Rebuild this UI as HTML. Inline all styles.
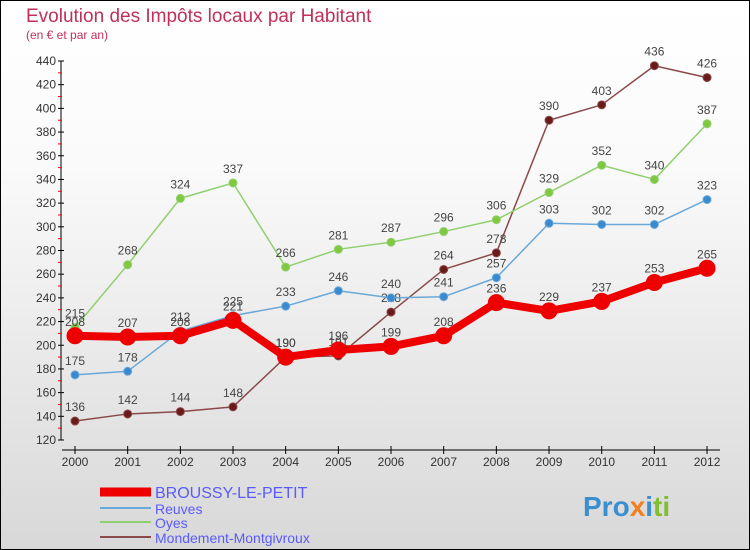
<!DOCTYPE html>
<html><head><meta charset="utf-8"><style>
body{margin:0;}
#c{position:relative;width:750px;height:550px;box-sizing:border-box;border:1px solid #000;background:linear-gradient(#fff,#fafafa 30%,#d8d8d8);font-family:"Liberation Sans",sans-serif;overflow:hidden;}
</style></head><body>
<div id="c">
<svg width="750" height="550" style="position:absolute;left:-1px;top:-1px">
<text x="26" y="22" font-size="19" fill="#c0305a">Evolution des Impôts locaux par Habitant</text>
<text x="26" y="39" font-size="12" fill="#c0305a">(en € et par an)</text>
<g id="axes"></g>
<g id="series"></g>
<g id="legend"></g>
<text x="583" y="516" font-size="28" font-weight="bold" fill="#3a8fd0">Pro<tspan fill="#f08020">x</tspan><tspan fill="#3a8fd0">i</tspan><tspan fill="#80c030">ti</tspan></text>
</svg>
</div>
<script>
const years=[2000,2001,2002,2003,2004,2005,2006,2007,2008,2009,2010,2011,2012];
const broussy=[208,207,208,221,190,196,199,208,236,229,237,253,265];
const reuves=[175,178,212,225,233,246,240,241,257,303,302,302,323];
const oyes=[215,268,324,337,266,281,287,296,306,329,352,340,387];
const mondement=[136,142,144,148,190,191,228,264,278,390,403,436,426];
const yTicks=[120,140,160,180,200,220,240,260,280,300,320,340,360,380,400,420,440];
const NS="http://www.w3.org/2000/svg";
const X=i=>75+i*52.67;
const Y=v=>440-(v-120)*(379/320);
function mk(p,t,a){const e=document.createElementNS(NS,t);for(const k in a)e.setAttribute(k,a[k]);p.appendChild(e);return e;}
const ax=document.getElementById('axes');
let l=mk(ax,'line',{x1:61,y1:Y(440),x2:61,y2:Y(120),stroke:'#000'});


l=mk(ax,'line',{x1:62,y1:450,x2:720,y2:450,stroke:'#000'});


yTicks.forEach((v,i)=>{
 mk(ax,'line',{x1:58,y1:Y(v),x2:64,y2:Y(v),stroke:'#000'});
 if(i<yTicks.length-1) mk(ax,'line',{x1:58,y1:Y(v+10),x2:62,y2:Y(v+10),stroke:'#f00'});
 const t=mk(ax,'text',{x:56,y:Y(v)+4,'font-size':12,fill:'#333','text-anchor':'end'});
 t.textContent=v;
 
 
});
years.forEach((y,i)=>{
 mk(ax,'line',{x1:X(i),y1:446,x2:X(i),y2:454,stroke:'#000'});
 const t=mk(ax,'text',{x:X(i),y:466,'font-size':12,fill:'#333','text-anchor':'middle'});
 t.textContent=y;
 
 
});
const sg=document.getElementById('series');
function draw(data,color,w,r,name,dot){
 const g=mk(sg,'g',{});
 
 
 mk(g,'polyline',{points:data.map((v,i)=>X(i)+','+Y(v)).join(' '),fill:'none',stroke:color,'stroke-width':w,'stroke-linejoin':'round'});
 data.forEach((v,i)=>{
  const c=mk(g,'circle',{cx:X(i),cy:Y(v),r:r,fill:dot,stroke:color,'stroke-width':1});
  
  
  const t=mk(g,'text',{x:X(i),y:Y(v)-10,'font-size':12,fill:'#444','text-anchor':'middle'});
  t.textContent=v;
  
  
 });
}
draw(mondement,'#8a4a4a',1.5,4,'series-mondement','#6a1a1a');
draw(oyes,'#90d070',1.5,4,'series-oyes','#80c840');
draw(reuves,'#6aa8d8',1.5,4,'series-reuves','#3a8ad0');
draw(broussy,'#ee0000',8,8,'series-broussy','#ee0000');
const lg=document.getElementById('legend');
const items=[['BROUSSY-LE-PETIT','#ee0000',9,16],['Reuves','#6aa8d8',2,14],['Oyes','#90d070',2,14],['Mondement-Montgivroux','#8a4a4a',2,14]];
const ly=[492,508,522,537];
items.forEach((it,i)=>{
 const g=mk(lg,'g',{});
 
 
 mk(g,'line',{x1:100,y1:ly[i],x2:151,y2:ly[i],stroke:it[1],'stroke-width':it[2]});
 const t=mk(g,'text',{x:155,y:ly[i]+6,'font-size':it[3],fill:'#5a5aff'});
 t.textContent=it[0];
});
</script>
</body></html>
